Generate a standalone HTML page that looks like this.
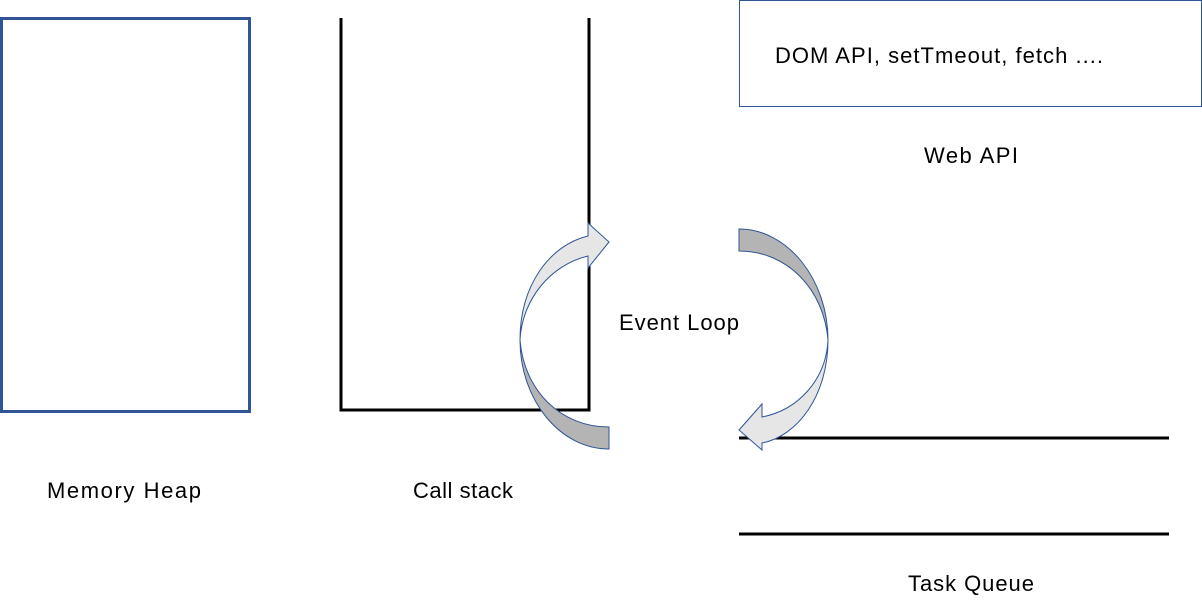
<!DOCTYPE html>
<html><head><meta charset="utf-8">
<style>
html,body{margin:0;padding:0;background:#fff;}
svg{display:block;}
text{font-family:"Liberation Sans","Noto Sans CJK KR",sans-serif;font-size:22px;fill:#000;}
</style></head>
<body>
<svg width="1202" height="612" viewBox="0 0 1202 612" xmlns="http://www.w3.org/2000/svg">
<rect x="1.5" y="18.5" width="248" height="393" fill="none" stroke="#2f5597" stroke-width="3"/>
<path d="M341 18 V410 H589 V18" fill="none" stroke="#000" stroke-width="3"/>
<rect x="739.5" y="0.5" width="462" height="106" fill="none" stroke="#2f5597" stroke-width="1"/>
<text x="775" y="63" textLength="328" lengthAdjust="spacing">DOM API, setTmeout, fetch ....</text>
<text x="924" y="163" textLength="94" lengthAdjust="spacing">Web API</text>
<text x="47" y="498" textLength="154" lengthAdjust="spacing">Memory Heap</text>
<text x="413" y="498" textLength="100" lengthAdjust="spacing">Call stack</text>
<text x="619" y="330" textLength="120" lengthAdjust="spacing">Event Loop</text>
<text x="908" y="591" textLength="126" lengthAdjust="spacing">Task Queue</text>
<line x1="739" y1="438" x2="1169" y2="438" stroke="#000" stroke-width="3"/>
<line x1="739" y1="534" x2="1169" y2="534" stroke="#000" stroke-width="3"/>
<!-- left arrow -->
<path d="M609 449 C560 449 520 400 520 340 C524 390 560 427 609 427 Z" fill="#b4b4b4" stroke="#2f5597" stroke-width="1"/>
<path d="M520 340 C520 285 550 245 588 236 L588 223 L609 242 L588 268 L588 256 C550 265 522 300 520 340 Z" fill="#e6e6e6" stroke="#2f5597" stroke-width="1"/>
<!-- right arrow -->
<path d="M739 229 C788 229 828 280 828 340 C824 290 788 251 739 251 Z" fill="#b4b4b4" stroke="#2f5597" stroke-width="1"/>
<path d="M828 340 C828 395 798 436 762 443 L762 450 L739 430 L762 404 L762 417 C798 410 826 380 828 340 Z" fill="#e6e6e6" stroke="#2f5597" stroke-width="1"/>
</svg>
</body></html>
